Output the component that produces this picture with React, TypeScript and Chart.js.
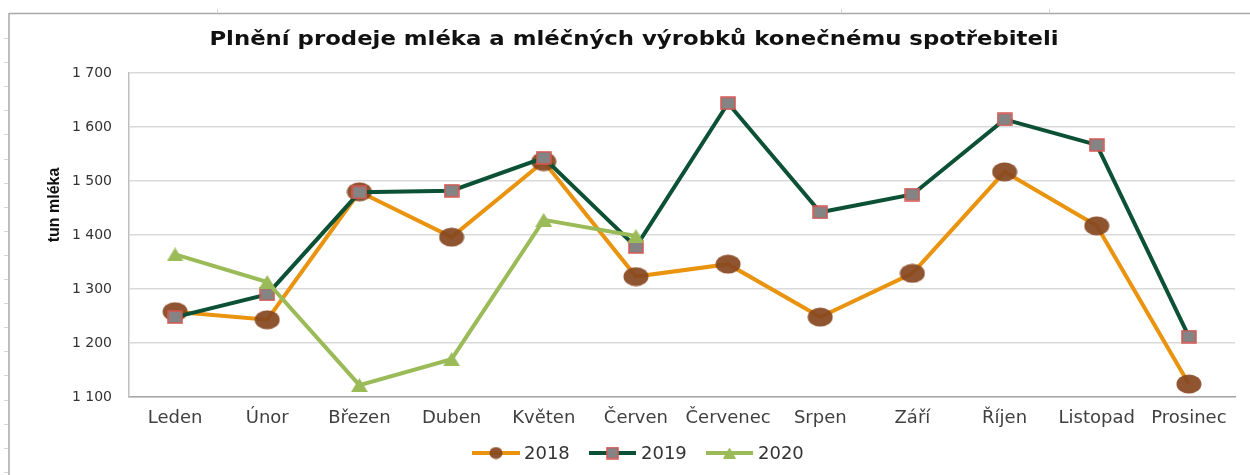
import React, { useEffect, useRef } from "react";
import { Chart, registerables } from "chart.js";

Chart.register(...registerables);

const months = ["Leden", "Únor", "Březen", "Duben", "Květen", "Červen", "Červenec", "Srpen", "Září", "Říjen", "Listopad", "Prosinec"];
const values2018 = [1258, 1243, 1480, 1396, 1536, 1323, 1346, 1248, 1329, 1517, 1417, 1124];
const values2019 = [1248, 1290, 1479, 1482, 1543, 1378, 1644, 1442, 1475, 1614, 1567, 1212];
const values2020 = [1364, 1313, 1122, 1170, 1428, 1398, null, null, null, null, null, null];
const yTicks = [1100, 1200, 1300, 1400, 1500, 1600, 1700];
const seriesLabels = ["2018", "2019", "2020"];
const chartTitle = "Plnění prodeje mléka a mléčných výrobků konečnému spotřebiteli";
const yAxisTitle = "tun mléka";

const C_ORANGE = "#E9930F";
const C_BROWN = "rgba(134,70,32,0.92)";
const C_DGREEN = "#0C5135";
const C_GRAY = "#848484";
const C_RED = "#D65550";
const C_LGREEN = "#9BBB59";

function makeCanvas(w: number, h: number) {
  const c = document.createElement("canvas");
  c.width = w;
  c.height = h;
  return c;
}

function ellipseMarker(w: number, h: number) {
  const c = makeCanvas(w, h);
  const ctx = c.getContext("2d")!;
  ctx.fillStyle = C_BROWN;
  ctx.beginPath();
  ctx.ellipse(w / 2, h / 2, w / 2 - 0.5, h / 2 - 0.5, 0, 0, Math.PI * 2);
  ctx.fill();
  return c;
}

function squareMarker(w: number, h: number) {
  const c = makeCanvas(w, h);
  const ctx = c.getContext("2d")!;
  ctx.fillStyle = C_GRAY;
  ctx.fillRect(1, 1, w - 2, h - 2);
  ctx.strokeStyle = C_RED;
  ctx.lineWidth = 1.5;
  ctx.strokeRect(1, 1, w - 2, h - 2);
  return c;
}

function triangleMarker(w: number, h: number) {
  const c = makeCanvas(w, h);
  const ctx = c.getContext("2d")!;
  ctx.fillStyle = C_LGREEN;
  ctx.beginPath();
  ctx.moveTo(w / 2, 0);
  ctx.lineTo(w, h);
  ctx.lineTo(0, h);
  ctx.closePath();
  ctx.fill();
  return c;
}

function fmt(v: number) {
  const th = Math.floor(v / 1000);
  const rest = String(v % 1000).padStart(3, "0");
  return th > 0 ? `${th} ${rest}` : String(v);
}

export default function App() {
  const ref = useRef<HTMLCanvasElement | null>(null);

  useEffect(() => {
    if (!ref.current) return;
    const m2018 = ellipseMarker(26, 20);
    const m2019 = squareMarker(16, 14);
    const m2020 = triangleMarker(17, 14);
    const legendMarkers = [ellipseMarker(14, 13), squareMarker(13, 13), triangleMarker(13, 11)];
    const legendColors = [C_ORANGE, C_DGREEN, C_LGREEN];
    const legendLineX = [[472, 520], [589, 636], [706, 753]];
    const legendTextX = [524, 641, 758];

    const decor = {
      id: "decor",
      beforeDraw(chart: any) {
        const ctx = chart.ctx;
        ctx.save();
        ctx.fillStyle = "#ffffff";
        ctx.fillRect(0, 0, chart.width, chart.height);
        ctx.strokeStyle = "#A9A9A9";
        ctx.lineWidth = 1.5;
        ctx.beginPath();
        ctx.moveTo(9, 13.5);
        ctx.lineTo(chart.width, 13.5);
        ctx.moveTo(9, 13);
        ctx.lineTo(9, chart.height);
        ctx.stroke();
        ctx.strokeStyle = "#D6D6D6";
        ctx.lineWidth = 1;
        ctx.beginPath();
        for (let y = 38; y < chart.height; y += 24.1) {
          ctx.moveTo(4, Math.round(y) + 0.5);
          ctx.lineTo(8, Math.round(y) + 0.5);
        }
        for (const x of [217, 841, 1049]) {
          ctx.moveTo(x + 0.5, 9);
          ctx.lineTo(x + 0.5, 13);
        }
        ctx.stroke();
        ctx.restore();
      },
      afterDraw(chart: any) {
        const ctx = chart.ctx;
        ctx.save();
        // title (horizontally stretched like the source)
        ctx.save();
        ctx.fillStyle = "#111111";
        ctx.font = "bold 20px 'DejaVu Sans'";
        ctx.textAlign = "center";
        ctx.textBaseline = "middle";
        ctx.translate(634, 40);
        ctx.scale(1.14, 1);
        ctx.fillText(chartTitle, 0, 0);
        ctx.restore();
        // y axis title
        ctx.save();
        ctx.translate(55, 205);
        ctx.rotate(-Math.PI / 2);
        ctx.font = "bold 16px 'Liberation Sans'";
        ctx.fillStyle = "#111111";
        ctx.textAlign = "center";
        ctx.textBaseline = "middle";
        ctx.fillText(yAxisTitle, 0, 0);
        ctx.restore();
        // legend
        const ly = 453;
        ctx.font = "18px 'DejaVu Sans'";
        ctx.textAlign = "left";
        ctx.textBaseline = "middle";
        seriesLabels.forEach((lab, i) => {
          ctx.strokeStyle = legendColors[i];
          ctx.lineWidth = 4;
          ctx.beginPath();
          ctx.moveTo(legendLineX[i][0], ly);
          ctx.lineTo(legendLineX[i][1], ly);
          ctx.stroke();
          const mk = legendMarkers[i];
          const cx = (legendLineX[i][0] + legendLineX[i][1]) / 2;
          ctx.drawImage(mk, cx - mk.width / 2, ly - mk.height / 2);
          ctx.fillStyle = "#333333";
          ctx.fillText(lab, legendTextX[i], ly + 1);
        });
        ctx.restore();
      },
    };

    const chart = new Chart(ref.current, {
      type: "line",
      data: {
        labels: months,
        datasets: [
          {
            label: seriesLabels[0],
            data: values2018,
            borderColor: C_ORANGE,
            borderWidth: 4,
            pointStyle: m2018 as any,
            pointRadius: 10,
            tension: 0,
            order: 3,
          },
          {
            label: seriesLabels[1],
            data: values2019,
            borderColor: C_DGREEN,
            borderWidth: 4,
            pointStyle: m2019 as any,
            pointRadius: 8,
            tension: 0,
            order: 2,
          },
          {
            label: seriesLabels[2],
            data: values2020 as any,
            borderColor: C_LGREEN,
            borderWidth: 4,
            pointStyle: m2020 as any,
            pointRadius: 8,
            tension: 0,
            spanGaps: false,
            order: 1,
          },
        ],
      },
      options: {
        responsive: false,
        animation: false,
        layout: { padding: { top: 73, right: 15, left: 0, bottom: 0 } },
        plugins: {
          legend: { display: false },
          title: { display: false },
          tooltip: { enabled: false },
        },
        scales: {
          x: {
            type: "category",
            offset: true,
            grid: { display: false, drawTicks: false },
            border: { display: true, color: "#A6A6A6", width: 1.5 },
            ticks: {
              font: { family: "'DejaVu Sans'", size: 18 },
              color: "#404040",
              padding: 11,
              maxRotation: 0,
              autoSkip: false,
            },
            afterFit(scale: any) {
              scale.height = 78;
            },
          },
          y: {
            min: 1100,
            max: 1700,
            grid: { color: "#D9D9D9", lineWidth: 1.5, drawTicks: false },
            border: { display: true, color: "#BFBFBF", width: 1.5 },
            afterBuildTicks(scale: any) {
              scale.ticks = yTicks.map((v) => ({ value: v }));
            },
            ticks: {
              font: { family: "'DejaVu Sans'", size: 14 },
              color: "#333333",
              padding: 17,
              callback: (v: any) => fmt(Number(v)),
            },
            afterFit(scale: any) {
              scale.width = 129;
            },
          },
        },
      },
      plugins: [decor],
    });
    return () => chart.destroy();
  }, []);

  return (
    <div style={{ position: "absolute", left: 0, top: 0, width: 1250, height: 475, background: "#fff" }}>
      <canvas ref={ref} width={1250} height={475} style={{ display: "block" }} />
    </div>
  );
}
